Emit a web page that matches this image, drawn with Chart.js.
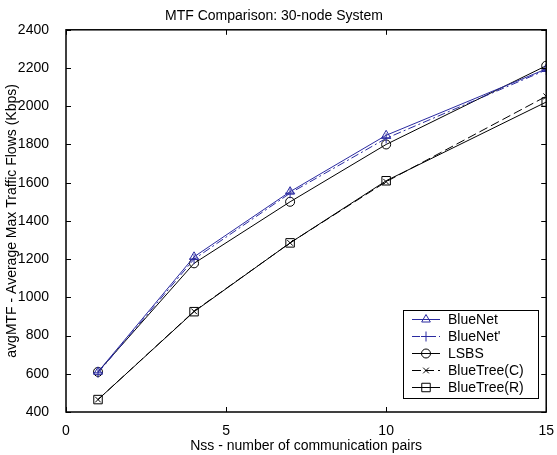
<!DOCTYPE html>
<html>
<head>
<meta charset="utf-8">
<script src="https://cdn.jsdelivr.net/npm/chart.js@4/dist/chart.umd.min.js"></script>
<style>
  html, body { margin: 0; padding: 0; background: #fff; }
  #wrap { width: 557px; height: 455px; }
</style>
</head>
<body>
<div id="wrap"><canvas id="c"></canvas></div>
<script>
// values
var pairs = [1, 4, 7, 10, 15];
var blueNet = [610, 1212, 1553, 1848, 2195];
var blueNetP = [605, 1200, 1545, 1832, 2190];
var lsbs = [610, 1178, 1500, 1800, 2212];
var blueTreeC = [465, 927, 1285, 1605, 2052];
var blueTreeR = [465, 925, 1285, 1610, 2022];
var xTicks = [0, 5, 10, 15];
var yTicks = [400, 600, 800, 1000, 1200, 1400, 1600, 1800, 2000, 2200, 2400];

var navy = "#2a2aa0";
var font = "Arial, 'Liberation Sans', sans-serif";

function pts(ys) {
    return pairs.map(function (x, i) { return { x: x, y: ys[i] }; });
}

var datasets = [
    { label: "BlueNet", data: pts(blueNet), borderColor: navy, pointStyle: "triangle", pointRadius: 5, dash: [] },
    { label: "BlueNet'", data: pts(blueNetP), borderColor: navy, pointStyle: "cross", pointRadius: 5, dash: [8, 3, 2, 3] },
    { label: "LSBS", data: pts(lsbs), borderColor: "#000", pointStyle: "circle", pointRadius: 4.5, dash: [] },
    { label: "BlueTree(C)", data: pts(blueTreeC), borderColor: "#000", pointStyle: "crossRot", pointRadius: 4, dash: [9, 4] },
    { label: "BlueTree(R)", data: pts(blueTreeR), borderColor: "#000", pointStyle: "rect", pointRadius: 6, dash: [] }
];
datasets.forEach(function (d) {
    d.borderWidth = 1;
    d.borderDash = d.dash;
    d.pointBorderColor = d.borderColor;
    d.pointBackgroundColor = "rgba(0,0,0,0)";
    d.pointBorderWidth = 1;
    d.fill = false;
    d.tension = 0;
});

// box + inward ticks on all four sides, legend inside bottom right
var frame = {
    id: "frame",
    afterDraw: function (chart) {
        var ctx = chart.ctx, a = chart.chartArea;
        var xs = chart.scales.x, ys = chart.scales.y;
        ctx.save();
        ctx.strokeStyle = "#000";
        ctx.lineWidth = 1.5;
        ctx.strokeRect(a.left, a.top, a.right - a.left, a.bottom - a.top);
        ctx.lineWidth = 1;
        ctx.beginPath();
        xTicks.forEach(function (v) {
            var px = Math.round(xs.getPixelForValue(v)) + 0.5;
            ctx.moveTo(px, a.bottom); ctx.lineTo(px, a.bottom - 5);
            ctx.moveTo(px, a.top); ctx.lineTo(px, a.top + 5);
        });
        yTicks.forEach(function (v) {
            var py = Math.round(ys.getPixelForValue(v)) + 0.5;
            ctx.moveTo(a.left, py); ctx.lineTo(a.left + 5, py);
            ctx.moveTo(a.right, py); ctx.lineTo(a.right - 5, py);
        });
        ctx.stroke();

        // legend
        var bx = 403, by = 310, bw = 135, bh = 88;
        ctx.fillStyle = "#fff";
        ctx.fillRect(bx, by, bw, bh);
        ctx.lineWidth = 1;
        ctx.strokeRect(bx + 0.5, by + 0.5, bw, bh);
        ctx.font = "14px " + font;
        ctx.textBaseline = "middle";
        chart.data.datasets.forEach(function (d, i) {
            var ly = Math.round(by + 9 + i * 17) + 0.5;
            ctx.strokeStyle = d.borderColor;
            ctx.setLineDash(d.dash);
            ctx.beginPath();
            ctx.moveTo(bx + 9, ly); ctx.lineTo(bx + 37, ly);
            ctx.stroke();
            ctx.setLineDash([]);
            ctx.fillStyle = "rgba(0,0,0,0)";
            Chart.helpers.drawPoint(ctx, { pointStyle: d.pointStyle, radius: d.pointRadius, rotation: 0, borderWidth: 1 }, bx + 23, ly);
            ctx.fillStyle = "#000";
            ctx.fillText(d.label, bx + 45, ly + 1);
        });
        ctx.restore();
    }
};

new Chart(document.getElementById("c"), {
    type: "line",
    data: { datasets: datasets },
    options: {
        responsive: true,
        maintainAspectRatio: false,
        animation: false,
        layout: { padding: { top: 2, right: 9, left: 0, bottom: 0 } },
        plugins: {
            legend: { display: false },
            tooltip: { enabled: false },
            title: {
                display: true,
                text: "MTF Comparison: 30-node System",
                color: "#000",
                font: { family: font, size: 14, weight: "normal" },
                padding: { top: 6, bottom: 5 }
            }
        },
        scales: {
            x: {
                type: "linear",
                min: 0, max: 15,
                afterBuildTicks: function (s) { s.ticks = xTicks.map(function (v) { return { value: v }; }); },
                afterFit: function (s) { s.height = 43; },
                grid: { display: false },
                border: { display: false },
                ticks: { color: "#000", font: { family: font, size: 14 }, padding: 3, callback: function (v) { return String(v); } },
                title: {
                    display: true,
                    text: "Nss - number of communication pairs",
                    color: "#000",
                    font: { family: font, size: 14 },
                    padding: { top: 0, bottom: 0 }
                }
            },
            y: {
                min: 400, max: 2400,
                afterBuildTicks: function (s) { s.ticks = yTicks.map(function (v) { return { value: v }; }); },
                afterFit: function (s) { s.width = 66; },
                grid: { display: false },
                border: { display: false },
                ticks: { color: "#000", font: { family: font, size: 14 }, padding: 9, callback: function (v) { return String(v); } },
                title: {
                    display: true,
                    text: "avgMTF - Average Max Traffic Flows (Kbps)",
                    color: "#000",
                    font: { family: font, size: 14 },
                    padding: { top: 4, bottom: 0 }
                }
            }
        }
    },
    plugins: [frame]
});
</script>
</body>
</html>
